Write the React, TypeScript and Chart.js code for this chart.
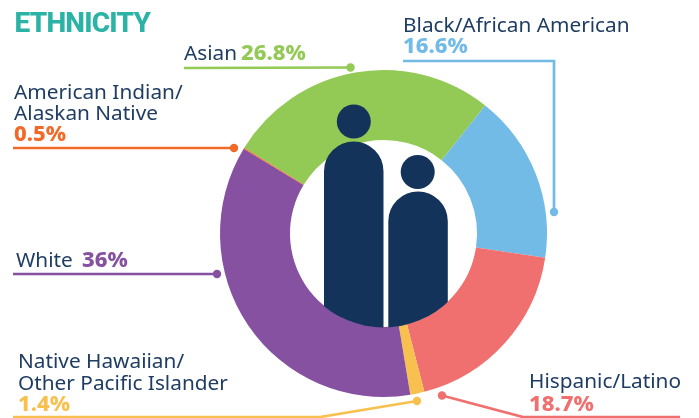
import React, { useEffect, useRef } from "react";
import { Chart, registerables } from "chart.js";

Chart.register(...registerables);

const categories = ["Asian", "Black/African American", "Hispanic/Latino", "Native Hawaiian/Other Pacific Islander", "White", "American Indian/Alaskan Native"];
// Arc shares as drawn in the picture (the thin sliver is narrower than its printed label)
const drawnShares = [26.9, 16.7, 18.6, 1.4, 36.3, 0.1];
const printedLabels = ["26.8%", "16.6%", "18.7%", "1.4%", "36%", "0.5%"];
const sliceColors = ["#93c955", "#73bbe7", "#f0706f", "#f8c14f", "#8551a0", "#f26a2a"];

const NAVY = "#1f3d63";
const ICON = "#14335a";
const FONT = '"Noto Sans"';

type Callout = {
  i: number;
  name: [string, number, number][];
  pct: [number, number];
  path: [number, number][];
};

const callouts: Callout[] = [
  { i: 0, name: [["Asian", 184, 60]], pct: [241, 60], path: [[184, 68], [350.5, 67.5]] },
  { i: 1, name: [["Black/African American", 403, 32]], pct: [403, 53], path: [[403, 61], [554, 61], [554, 212]] },
  { i: 2, name: [["Hispanic/Latino", 529, 388]], pct: [529, 411], path: [[680, 417], [523, 417], [442, 395.5]] },
  { i: 3, name: [["Native Hawaiian/", 18, 368], ["Other Pacific Islander", 18, 390]], pct: [18, 411], path: [[13, 417], [320, 417], [417, 401]] },
  { i: 4, name: [["White", 16, 267]], pct: [82, 267], path: [[13, 274], [217, 274]] },
  { i: 5, name: [["American Indian/", 14, 99], ["Alaskan Native", 14, 120]], pct: [14, 141], path: [[13, 148], [234, 148]] },
];

const overlay = {
  id: "overlay",
  afterDraw(chart: any) {
    const ctx = chart.ctx as CanvasRenderingContext2D;
    const arc = chart.getDatasetMeta(0).data[0];
    const { x: cx, y: cy, innerRadius } = arc;

    // People icon: the bodies run past the ring at the top, and end on the hole's edge below
    ctx.save();
    ctx.beginPath();
    ctx.arc(cx, cy, innerRadius + 0.5, 0, Math.PI);
    ctx.lineTo(0, cy);
    ctx.lineTo(0, 0);
    ctx.lineTo(699, 0);
    ctx.lineTo(699, cy);
    ctx.closePath();
    ctx.clip();
    ctx.fillStyle = ICON;
    ctx.beginPath();
    ctx.roundRect(324, 141.5, 59.5, 260, 29.7);
    ctx.roundRect(388.3, 191.5, 59.5, 210, 29.7);
    ctx.fill();
    ctx.restore();
    ctx.fillStyle = ICON;
    ctx.beginPath();
    ctx.arc(353.8, 121.5, 17, 0, Math.PI * 2);
    ctx.fill();
    ctx.beginPath();
    ctx.arc(417.7, 172, 17, 0, Math.PI * 2);
    ctx.fill();

    // Title
    ctx.textBaseline = "alphabetic";
    ctx.textAlign = "left";
    ctx.fillStyle = "#2bb3a6";
    ctx.font = `800 28px Roboto`;
    (ctx as any).letterSpacing = "-0.8px";
    ctx.fillText("ETHNICITY", 14.5, 32);
    (ctx as any).letterSpacing = "0px";

    // Callouts
    for (const c of callouts) {
      const color = sliceColors[c.i];
      ctx.strokeStyle = color;
      ctx.lineWidth = 2.7;
      ctx.beginPath();
      c.path.forEach(([x, y], k) => (k ? ctx.lineTo(x, y) : ctx.moveTo(x, y)));
      ctx.stroke();
      const [dx, dy] = c.path[c.path.length - 1];
      ctx.fillStyle = color;
      ctx.beginPath();
      ctx.arc(dx, dy, 4.2, 0, Math.PI * 2);
      ctx.fill();

      ctx.font = `400 20.8px ${FONT}`;
      ctx.fillStyle = NAVY;
      for (const [t, x, y] of c.name) ctx.fillText(t, x, y);
      ctx.font = `800 22px ${FONT}`;
      ctx.fillStyle = color;
      ctx.fillText(printedLabels[c.i], c.pct[0], c.pct[1]);
    }
  },
};

export default function App() {
  const ref = useRef<HTMLCanvasElement>(null);
  useEffect(() => {
    const chart = new Chart(ref.current!, {
      type: "doughnut",
      data: {
        labels: categories,
        datasets: [{ data: drawnShares, backgroundColor: sliceColors, borderWidth: 0 }],
      },
      options: {
        animation: false,
        responsive: false,
        cutout: "57.2%",
        rotation: -58.4,
        layout: { padding: { left: 220, right: 152, top: 70, bottom: 21 } },
        plugins: { legend: { display: false }, tooltip: { enabled: false } },
      },
      plugins: [overlay],
    } as any);
    return () => chart.destroy();
  }, []);
  return (
    <div style={{ position: "fixed", left: 0, top: 0, width: 699, height: 418, background: "#fff" }}>
      <canvas ref={ref} width={699} height={418} style={{ display: "block" }} />
    </div>
  );
}
